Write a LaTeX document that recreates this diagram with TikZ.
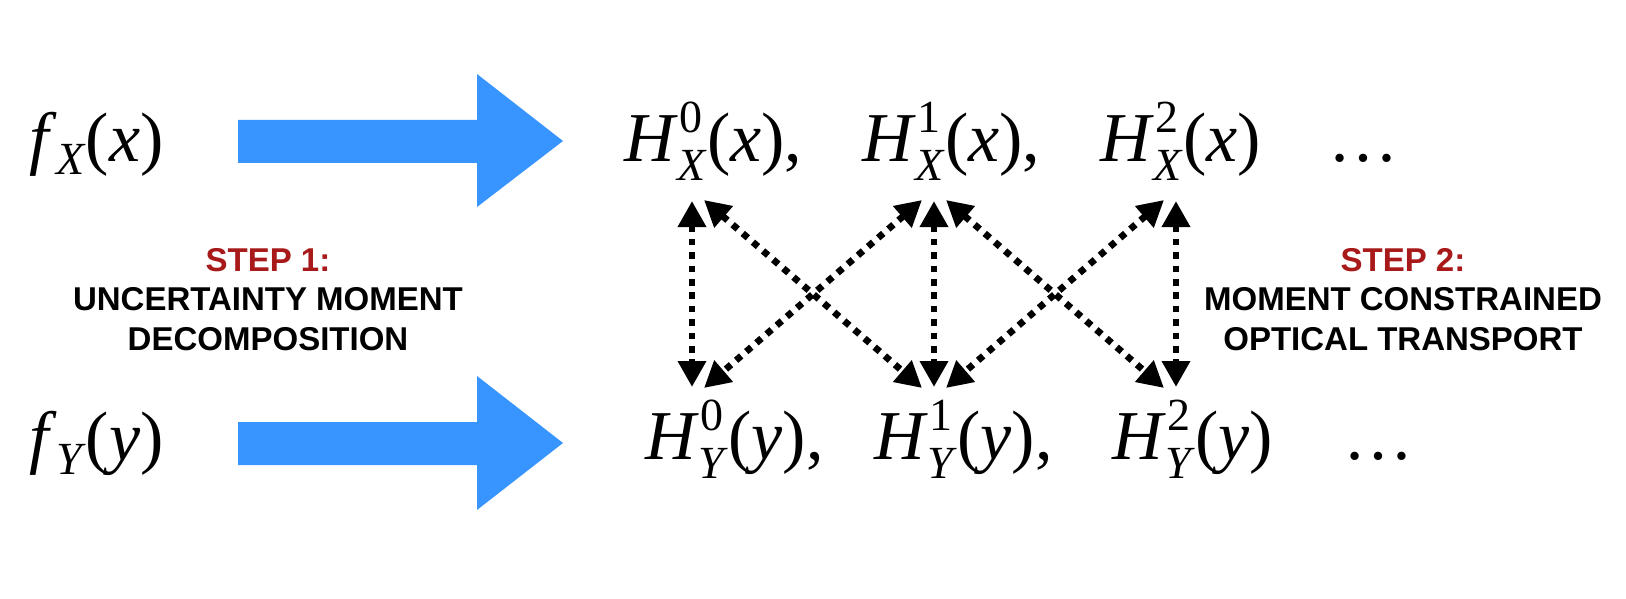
\documentclass[tikz,border=0pt]{standalone}
\usepackage{fontspec}
\setmainfont{Liberation Serif}
\setsansfont{Liberation Sans}
\usetikzlibrary{arrows.meta}
\definecolor{arrowblue}{RGB}{56,148,255}
\definecolor{stepred}{RGB}{168,26,26}
\newcommand{\scr}{\fontsize{46}{50}\selectfont}
\newcommand{\Hterm}[3]{\textit{H}\rlap{\hspace{0.03em}\raisebox{0.41em}{\scr #1}}\raisebox{-0.28em}{\scr\textit{#2}}(\textit{#3})}
\newcommand{\fterm}[2]{\textit{f\/}\kern-0.02em\raisebox{-0.2em}{\scr\textit{#1}}(\textit{#2})}
\begin{document}
\begin{tikzpicture}[x=1pt,y=-1pt,
  mathlbl/.style={inner sep=0pt, outer sep=0pt, anchor=base west, font=\fontsize{70}{80}\selectfont},
  steplbl/.style={inner sep=0pt, outer sep=0pt, align=center, anchor=north, font=\sffamily\bfseries\fontsize{33}{39.5}\selectfont},
  bigarrow/.style={fill=arrowblue, draw=none},
  link/.style={line width=6.7pt, dash pattern=on 6.7pt off 6.7pt, {Triangle[length=26pt,width=27pt]}-{Triangle[length=26pt,width=27pt]}}
]
\useasboundingbox (0,0) rectangle (1626,599);
\fill[white] (0,0) rectangle (1626,599);

% left functions
\node[mathlbl] (fx) at (30,161) {\fterm{X}{x}};
\node[mathlbl] (fy) at (30,460) {\fterm{Y}{y}};

% blue arrows
\fill[bigarrow] (238,120) -- (477,120) -- (477,74) -- (563,141) -- (477,207) -- (477,163) -- (238,163) -- cycle;
\fill[bigarrow] (238,422) -- (477,422) -- (477,376) -- (563,443) -- (477,510) -- (477,465) -- (238,465) -- cycle;

% moment terms
\node[mathlbl] (hx0) at (624,161) {\Hterm{0}{X}{x},};
\node[mathlbl] (hx1) at (862,161) {\Hterm{1}{X}{x},};
\node[mathlbl] (hx2) at (1100,161) {\Hterm{2}{X}{x}};
\node[mathlbl] (dx) at (1328,161) {\dots};
\node[mathlbl] (hy0) at (645,459) {\Hterm{0}{Y}{y},};
\node[mathlbl] (hy1) at (874,459) {\Hterm{1}{Y}{y},};
\node[mathlbl] (hy2) at (1112,459) {\Hterm{2}{Y}{y}};
\node[mathlbl] (dy) at (1343,459) {\dots};

% step labels
\node[steplbl] (s1) at (268,248) {\textcolor{stepred}{STEP 1:}\\UNCERTAINTY MOMENT\\DECOMPOSITION};
\node[steplbl] (s2) at (1403,248) {\textcolor{stepred}{STEP 2:}\\MOMENT CONSTRAINED\\OPTICAL TRANSPORT};

% connector ends
\coordinate (v0t) at (692,201); \coordinate (v0b) at (692,387);
\coordinate (v1t) at (934,201); \coordinate (v1b) at (934,387);
\coordinate (v2t) at (1176,201); \coordinate (v2b) at (1176,387);
\coordinate (a0t) at (704,200); \coordinate (a1bl) at (922,388);
\coordinate (a1tl) at (922,200); \coordinate (a0b) at (704,388);
\coordinate (a1tr) at (946,200); \coordinate (a2bl) at (1164,388);
\coordinate (a2tl) at (1164,200); \coordinate (a1br) at (946,388);

\draw[link] (v0t) -- (v0b);
\draw[link] (v1t) -- (v1b);
\draw[link] (v2t) -- (v2b);
\draw[link] (a0t) -- (a1bl);
\draw[link] (a1tl) -- (a0b);
\draw[link] (a1tr) -- (a2bl);
\draw[link] (a2tl) -- (a1br);
\end{tikzpicture}
\end{document}
